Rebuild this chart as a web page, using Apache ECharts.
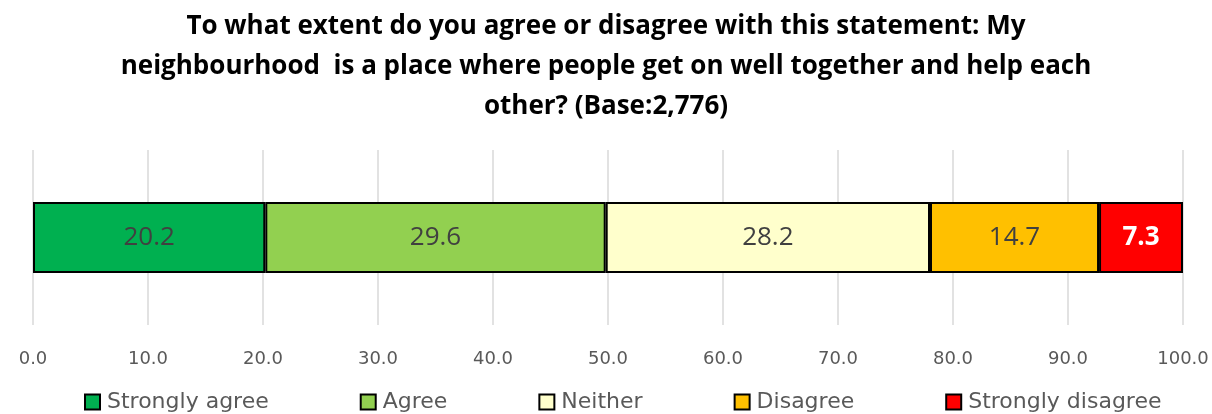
<!DOCTYPE html>
<html><head><meta charset="utf-8">
<script src="https://cdn.jsdelivr.net/npm/echarts@6/dist/echarts.min.js"></script>
<style>html,body{margin:0;padding:0;background:#fff}#c{width:1212px;height:414px}</style>
</head><body><div id="c"></div>
<script>
const titleLines = ["To what extent do you agree or disagree with this statement: My", "neighbourhood  is a place where people get on well together and help each", "other? (Base:2,776)"];
const categories = ["Neighbourhood"];
const seriesNames = ["Strongly agree", "Agree", "Neither", "Disagree", "Strongly disagree"];
const seriesValues = [[20.2], [29.6], [28.2], [14.7], [7.3]];
const seriesColors = ["#00B050", "#92D050", "#FFFFCC", "#FFC000", "#FF0000"];
const xTicks = [0, 10, 20, 30, 40, 50, 60, 70, 80, 90, 100];

const chart = echarts.init(document.getElementById('c'), null, {renderer: 'canvas'});
const series = seriesNames.map((n, i) => ({
  name: n, type: 'bar', stack: 'total', data: seriesValues[i], barWidth: 71,
  itemStyle: {color: seriesColors[i], borderColor: '#000', borderWidth: 2},
  label: {show: true, position: 'inside', formatter: p => p.value.toFixed(1),
    fontFamily: 'Open Sans', fontSize: 26,
    color: i === 4 ? '#fff' : '#404040', fontWeight: i === 4 ? 'bold' : 'normal'}
}));
chart.setOption({
  animation: false,
  title: {text: titleLines.join('\n'), left: 'center', top: 2,
    textStyle: {fontFamily: 'Open Sans', fontWeight: 'bold', fontSize: 26, lineHeight: 40, color: '#000'}},
  grid: {left: 33, right: 29, top: 150, bottom: 89},
  legend: {top: 391, left: 84, padding: 0, itemGap: 91, itemWidth: 15, itemHeight: 15,
    icon: 'rect', itemStyle: {borderColor: '#000', borderWidth: 2},
    textStyle: {fontFamily: 'DejaVu Sans', fontSize: 22, color: '#595959', padding: [0, 0, 0, 2]}, data: seriesNames},
  xAxis: {type: 'value', min: 0, max: 100, interval: 10,
    axisLine: {show: false}, axisTick: {show: false},
    splitLine: {show: true, lineStyle: {color: '#d9d9d9', width: 1.5}},
    axisLabel: {formatter: v => v.toFixed(1), fontFamily: 'DejaVu Sans', fontSize: 18, color: '#595959', margin: 25}},
  yAxis: {type: 'category', data: categories, show: false},
  series: series
});
</script></body></html>
